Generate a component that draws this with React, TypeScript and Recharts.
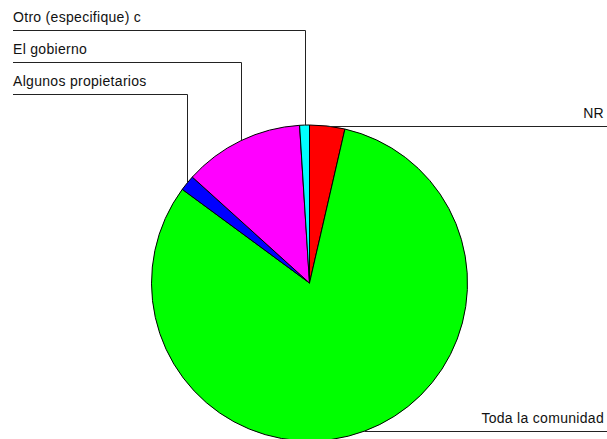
import React from 'react';
import { PieChart, Pie, Cell } from 'recharts';

// Shares, clockwise from 12 o'clock
const categories = ['NR', 'Toda la comunidad', 'Algunos propietarios', 'El gobierno', 'Otro (especifique) c'];
const shares = [3.6, 81.5, 1.6, 12.3, 1.0];

const COLORS = ['#ff0000', '#00ff00', '#0000ff', '#ff00ff', '#00ffff'];

// where each label's leader line turns: 'right' runs to the right edge, a number is the y of the left shelf
const LABEL_SHELF: (number | 'right')[] = ['right', 'right', 94, 62, 30];

const W = 607;
const H = 439;
const RAD = Math.PI / 180;

const data = categories.map((name, i) => ({ name, value: shares[i] }));

const renderLabel = (props: any) => {
  const { cx, cy, midAngle, outerRadius, index, name } = props;
  const px = cx + outerRadius * Math.cos(-midAngle * RAD);
  const py = cy + outerRadius * Math.sin(-midAngle * RAD);
  const shelf = LABEL_SHELF[index];
  const font = { fontFamily: 'Arial, "Liberation Sans", sans-serif', fontSize: 14, fill: '#111', letterSpacing: 0.3 };

  if (shelf === 'right') {
    const y = Math.round(py) + 0.5;
    return (
      <g key={`lbl-${index}`}>
        <polyline points={`${px},${y} ${W},${y}`} fill="none" stroke="#222" strokeWidth={1} />
        <text x={W - 3} y={y - 9} textAnchor="end" {...font}>{name}</text>
      </g>
    );
  }

  const x = Math.round(px) + 0.5;
  const y = shelf + 0.5;
  return (
    <g key={`lbl-${index}`}>
      <polyline points={`${x},${py} ${x},${y} 13,${y}`} fill="none" stroke="#222" strokeWidth={1} />
      <text x={13} y={y - 9} textAnchor="start" {...font}>{name}</text>
    </g>
  );
};

export default function App() {
  return (
    <div style={{ width: W, height: H, background: '#fff' }}>
      <style>{'body{margin:0}'}</style>
      <PieChart width={W} height={H} margin={{ top: 0, right: 0, bottom: 0, left: 0 }}>
        <Pie
          data={data}
          dataKey="value"
          nameKey="name"
          cx={309.5}
          cy={283}
          outerRadius={158}
          startAngle={90}
          endAngle={-270}
          stroke="#000"
          strokeWidth={1}
          labelLine={false}
          label={renderLabel}
          isAnimationActive={false}
        >
          {data.map((entry, index) => (
            <Cell key={`cell-${index}`} fill={COLORS[index % COLORS.length]} />
          ))}
        </Pie>
      </PieChart>
    </div>
  );
}
